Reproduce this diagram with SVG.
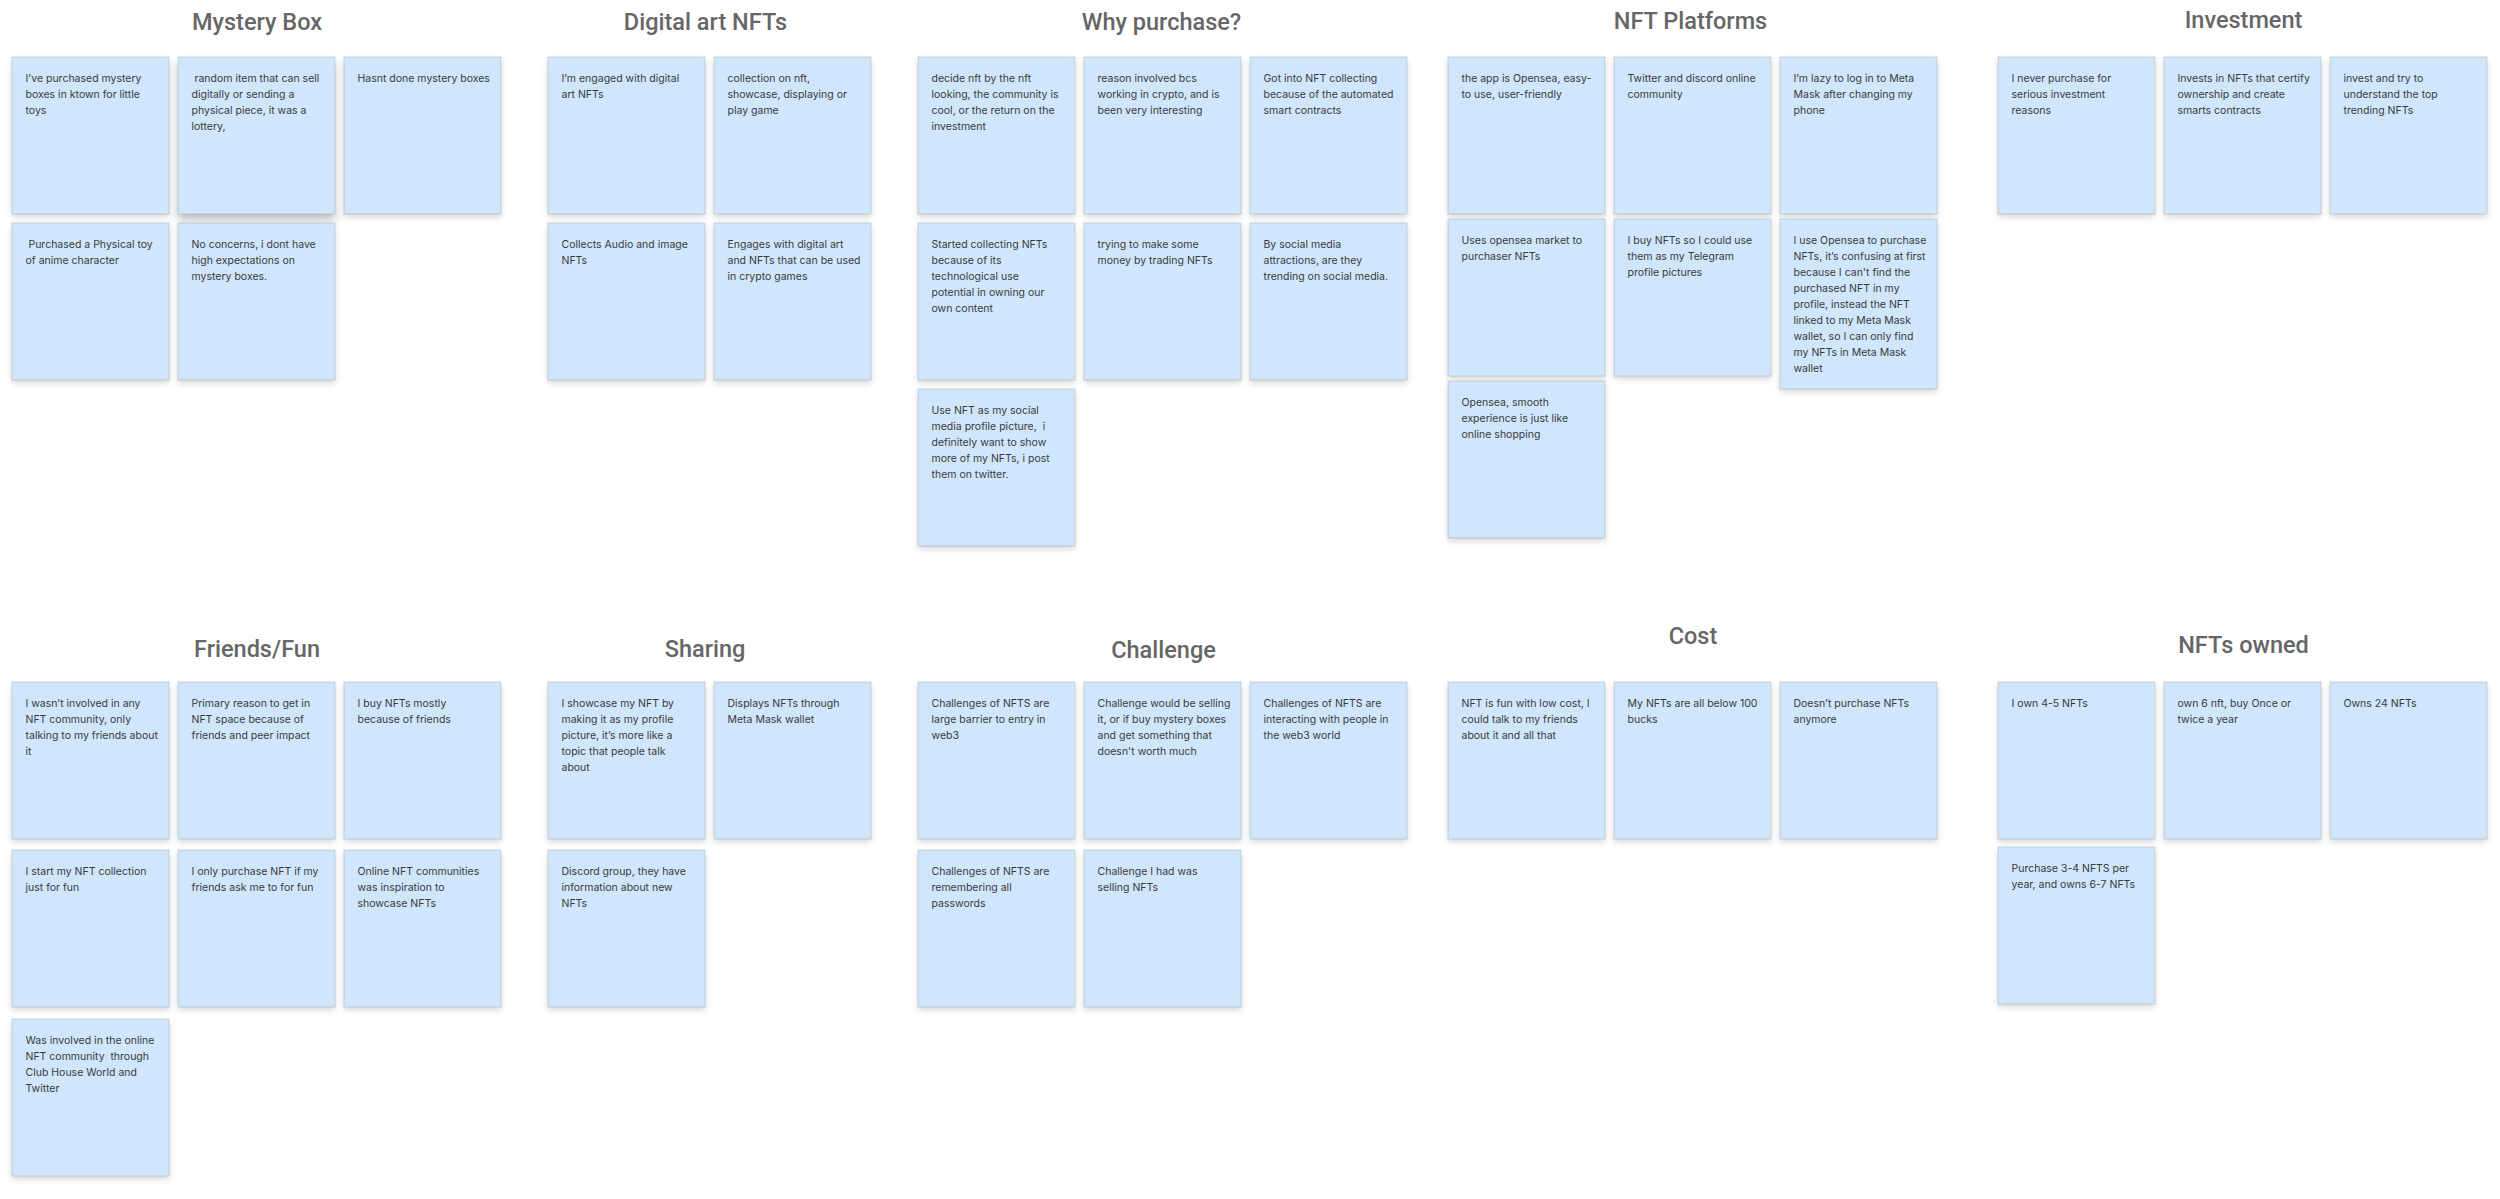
<svg xmlns="http://www.w3.org/2000/svg" width="2500" height="1199" viewBox="0 0 2500 1199">
<defs>
<filter id="sh" x="-20%" y="-20%" width="140%" height="150%">
<feDropShadow dx="0" dy="3" stdDeviation="3" flood-color="#000" flood-opacity="0.16"/>
</filter>
<filter id="sh2" x="-20%" y="-20%" width="140%" height="160%">
<feDropShadow dx="0" dy="6" stdDeviation="5" flood-color="#000" flood-opacity="0.25"/>
</filter>
<style>
.s{fill:#D0E6FD;stroke:#000;stroke-opacity:0.13;stroke-width:1;filter:url(#sh)}
.t{font-family:Inter,"Liberation Sans",sans-serif;font-size:10.5px;fill:#3a3a3a}
.h{font-family:Roboto,"Liberation Sans",sans-serif;font-size:23.5px;font-weight:500;fill:#666666;text-anchor:middle}
</style>
</defs>
<rect width="2500" height="1199" fill="#ffffff"/>
<g id="connectors"/>

<g id="titles">
<text id="title-mystery" class="h" x="257" y="29.5">Mystery Box</text>
<text id="title-digital" class="h" x="705.5" y="29.5">Digital art NFTs</text>
<text id="title-why" class="h" x="1161.5" y="29.5">Why purchase?</text>
<text id="title-platforms" class="h" x="1690.5" y="29">NFT Platforms</text>
<text id="title-investment" class="h" x="2243.5" y="27.5">Investment</text>
<text id="title-friends" class="h" x="257" y="657">Friends/Fun</text>
<text id="title-sharing" class="h" x="705" y="657">Sharing</text>
<text id="title-challenge" class="h" x="1163.5" y="657.5">Challenge</text>
<text id="title-cost" class="h" x="1693" y="643.5">Cost</text>
<text id="title-owned" class="h" x="2243.5" y="652.5">NFTs owned</text>
</g>

<!-- Mystery Box -->
<g id="m1"><rect class="s" x="12" y="57" width="157" height="157"/><text class="t"><tspan x="25.5" y="82">I’ve purchased mystery</tspan><tspan x="25.5" y="98">boxes in ktown for little</tspan><tspan x="25.5" y="114">toys</tspan></text></g>
<g id="m2"><rect class="s" x="178" y="57" width="157" height="157" style="filter:url(#sh2)"/><text class="t" xml:space="preserve"><tspan x="191.5" y="82"> random item that can sell</tspan><tspan x="191.5" y="98">digitally or sending a</tspan><tspan x="191.5" y="114">physical piece, it was a</tspan><tspan x="191.5" y="130">lottery,</tspan></text></g>
<g id="m3"><rect class="s" x="344" y="57" width="157" height="157"/><text class="t"><tspan x="357.5" y="82">Hasnt done mystery boxes</tspan></text></g>
<g id="m4"><rect class="s" x="12" y="223" width="157" height="157"/><text class="t" xml:space="preserve"><tspan x="25.5" y="248"> Purchased a Physical toy</tspan><tspan x="25.5" y="264">of anime character</tspan></text></g>
<g id="m5"><rect class="s" x="178" y="223" width="157" height="157"/><text class="t"><tspan x="191.5" y="248">No concerns, i dont have</tspan><tspan x="191.5" y="264">high expectations on</tspan><tspan x="191.5" y="280">mystery boxes.</tspan></text></g>

<!-- Digital art NFTs -->
<g id="d1"><rect class="s" x="548" y="57" width="157" height="157"/><text class="t"><tspan x="561.5" y="82">I’m engaged with digital</tspan><tspan x="561.5" y="98">art NFTs</tspan></text></g>
<g id="d2"><rect class="s" x="714" y="57" width="157" height="157"/><text class="t"><tspan x="727.5" y="82">collection on nft,</tspan><tspan x="727.5" y="98">showcase, displaying or</tspan><tspan x="727.5" y="114">play game</tspan></text></g>
<g id="d3"><rect class="s" x="548" y="223" width="157" height="157"/><text class="t"><tspan x="561.5" y="248">Collects Audio and image</tspan><tspan x="561.5" y="264">NFTs</tspan></text></g>
<g id="d4"><rect class="s" x="714" y="223" width="157" height="157"/><text class="t"><tspan x="727.5" y="248">Engages with digital art</tspan><tspan x="727.5" y="264">and NFTs that can be used</tspan><tspan x="727.5" y="280">in crypto games</tspan></text></g>

<!-- Why purchase? -->
<g id="w1"><rect class="s" x="918" y="57" width="157" height="157"/><text class="t"><tspan x="931.5" y="82">decide nft by the nft</tspan><tspan x="931.5" y="98">looking, the community is</tspan><tspan x="931.5" y="114">cool, or the return on the</tspan><tspan x="931.5" y="130">investment</tspan></text></g>
<g id="w2"><rect class="s" x="1084" y="57" width="157" height="157"/><text class="t"><tspan x="1097.5" y="82">reason involved bcs</tspan><tspan x="1097.5" y="98">working in crypto, and is</tspan><tspan x="1097.5" y="114">been very interesting</tspan></text></g>
<g id="w3"><rect class="s" x="1250" y="57" width="157" height="157"/><text class="t"><tspan x="1263.5" y="82">Got into NFT collecting</tspan><tspan x="1263.5" y="98">because of the automated</tspan><tspan x="1263.5" y="114">smart contracts</tspan></text></g>
<g id="w4"><rect class="s" x="918" y="223" width="157" height="157"/><text class="t"><tspan x="931.5" y="248">Started collecting NFTs</tspan><tspan x="931.5" y="264">because of its</tspan><tspan x="931.5" y="280">technological use</tspan><tspan x="931.5" y="296">potential in owning our</tspan><tspan x="931.5" y="312">own content</tspan></text></g>
<g id="w5"><rect class="s" x="1084" y="223" width="157" height="157"/><text class="t"><tspan x="1097.5" y="248">trying to make some</tspan><tspan x="1097.5" y="264">money by trading NFTs</tspan></text></g>
<g id="w6"><rect class="s" x="1250" y="223" width="157" height="157"/><text class="t"><tspan x="1263.5" y="248">By social media</tspan><tspan x="1263.5" y="264">attractions, are they</tspan><tspan x="1263.5" y="280">trending on social media.</tspan></text></g>
<g id="w7"><rect class="s" x="918" y="389" width="157" height="157"/><text class="t" xml:space="preserve"><tspan x="931.5" y="414">Use NFT as my social</tspan><tspan x="931.5" y="430">media profile picture,  i</tspan><tspan x="931.5" y="446">definitely want to show</tspan><tspan x="931.5" y="462">more of my NFTs, i post</tspan><tspan x="931.5" y="478">them on twitter.</tspan></text></g>

<!-- NFT Platforms -->
<g id="p1"><rect class="s" x="1448" y="57" width="157" height="157"/><text class="t"><tspan x="1461.5" y="82">the app is Opensea, easy-</tspan><tspan x="1461.5" y="98">to use, user-friendly</tspan></text></g>
<g id="p2"><rect class="s" x="1614" y="57" width="157" height="157"/><text class="t"><tspan x="1627.5" y="82">Twitter and discord online</tspan><tspan x="1627.5" y="98">community</tspan></text></g>
<g id="p3"><rect class="s" x="1780" y="57" width="157" height="157"/><text class="t"><tspan x="1793.5" y="82">I’m lazy to log in to Meta</tspan><tspan x="1793.5" y="98">Mask after changing my</tspan><tspan x="1793.5" y="114">phone</tspan></text></g>
<g id="p4"><rect class="s" x="1448" y="219" width="157" height="157"/><text class="t"><tspan x="1461.5" y="244">Uses opensea market to</tspan><tspan x="1461.5" y="260">purchaser NFTs</tspan></text></g>
<g id="p5"><rect class="s" x="1614" y="219" width="157" height="157"/><text class="t"><tspan x="1627.5" y="244">I buy NFTs so I could use</tspan><tspan x="1627.5" y="260">them as my Telegram</tspan><tspan x="1627.5" y="276">profile pictures</tspan></text></g>
<g id="p6"><rect class="s" x="1780" y="219" width="157" height="170"/><text class="t"><tspan x="1793.5" y="244">I use Opensea to purchase</tspan><tspan x="1793.5" y="260">NFTs, it’s confusing at first</tspan><tspan x="1793.5" y="276">because I can't find the</tspan><tspan x="1793.5" y="292">purchased NFT in my</tspan><tspan x="1793.5" y="308">profile, instead the NFT</tspan><tspan x="1793.5" y="324">linked to my Meta Mask</tspan><tspan x="1793.5" y="340">wallet, so I can only find</tspan><tspan x="1793.5" y="356">my NFTs in Meta Mask</tspan><tspan x="1793.5" y="372">wallet</tspan></text></g>
<g id="p7"><rect class="s" x="1448" y="381" width="157" height="157"/><text class="t"><tspan x="1461.5" y="406">Opensea, smooth</tspan><tspan x="1461.5" y="422">experience is just like</tspan><tspan x="1461.5" y="438">online shopping</tspan></text></g>

<!-- Investment -->
<g id="i1"><rect class="s" x="1998" y="57" width="157" height="157"/><text class="t"><tspan x="2011.5" y="82">I never purchase for</tspan><tspan x="2011.5" y="98">serious investment</tspan><tspan x="2011.5" y="114">reasons</tspan></text></g>
<g id="i2"><rect class="s" x="2164" y="57" width="157" height="157"/><text class="t"><tspan x="2177.5" y="82">Invests in NFTs that certify</tspan><tspan x="2177.5" y="98">ownership and create</tspan><tspan x="2177.5" y="114">smarts contracts</tspan></text></g>
<g id="i3"><rect class="s" x="2330" y="57" width="157" height="157"/><text class="t"><tspan x="2343.5" y="82">invest and try to</tspan><tspan x="2343.5" y="98">understand the top</tspan><tspan x="2343.5" y="114">trending NFTs</tspan></text></g>

<!-- Friends/Fun -->
<g id="f1"><rect class="s" x="12" y="682" width="157" height="157"/><text class="t"><tspan x="25.5" y="707">I wasn’t involved in any</tspan><tspan x="25.5" y="723">NFT community, only</tspan><tspan x="25.5" y="739">talking to my friends about</tspan><tspan x="25.5" y="755">it</tspan></text></g>
<g id="f2"><rect class="s" x="178" y="682" width="157" height="157"/><text class="t"><tspan x="191.5" y="707">Primary reason to get in</tspan><tspan x="191.5" y="723">NFT space because of</tspan><tspan x="191.5" y="739">friends and peer impact</tspan></text></g>
<g id="f3"><rect class="s" x="344" y="682" width="157" height="157"/><text class="t"><tspan x="357.5" y="707">I buy NFTs mostly</tspan><tspan x="357.5" y="723">because of friends</tspan></text></g>
<g id="f4"><rect class="s" x="12" y="850" width="157" height="157"/><text class="t"><tspan x="25.5" y="875">I start my NFT collection</tspan><tspan x="25.5" y="891">just for fun</tspan></text></g>
<g id="f5"><rect class="s" x="178" y="850" width="157" height="157"/><text class="t"><tspan x="191.5" y="875">I only purchase NFT if my</tspan><tspan x="191.5" y="891">friends ask me to for fun</tspan></text></g>
<g id="f6"><rect class="s" x="344" y="850" width="157" height="157"/><text class="t"><tspan x="357.5" y="875">Online NFT communities</tspan><tspan x="357.5" y="891">was inspiration to</tspan><tspan x="357.5" y="907">showcase NFTs</tspan></text></g>
<g id="f7"><rect class="s" x="12" y="1019" width="157" height="157"/><text class="t" xml:space="preserve"><tspan x="25.5" y="1044">Was involved in the online</tspan><tspan x="25.5" y="1060">NFT community  through</tspan><tspan x="25.5" y="1076">Club House World and</tspan><tspan x="25.5" y="1092">Twitter</tspan></text></g>

<!-- Sharing -->
<g id="s1"><rect class="s" x="548" y="682" width="157" height="157"/><text class="t"><tspan x="561.5" y="707">I showcase my NFT by</tspan><tspan x="561.5" y="723">making it as my profile</tspan><tspan x="561.5" y="739">picture, it’s more like a</tspan><tspan x="561.5" y="755">topic that people talk</tspan><tspan x="561.5" y="771">about</tspan></text></g>
<g id="s2"><rect class="s" x="714" y="682" width="157" height="157"/><text class="t"><tspan x="727.5" y="707">Displays NFTs through</tspan><tspan x="727.5" y="723">Meta Mask wallet</tspan></text></g>
<g id="s3"><rect class="s" x="548" y="850" width="157" height="157"/><text class="t"><tspan x="561.5" y="875">Discord group, they have</tspan><tspan x="561.5" y="891">information about new</tspan><tspan x="561.5" y="907">NFTs</tspan></text></g>

<!-- Challenge -->
<g id="c1"><rect class="s" x="918" y="682" width="157" height="157"/><text class="t"><tspan x="931.5" y="707">Challenges of NFTS are</tspan><tspan x="931.5" y="723">large barrier to entry in</tspan><tspan x="931.5" y="739">web3</tspan></text></g>
<g id="c2"><rect class="s" x="1084" y="682" width="157" height="157"/><text class="t"><tspan x="1097.5" y="707">Challenge would be selling</tspan><tspan x="1097.5" y="723">it, or if buy mystery boxes</tspan><tspan x="1097.5" y="739">and get something that</tspan><tspan x="1097.5" y="755">doesn't worth much</tspan></text></g>
<g id="c3"><rect class="s" x="1250" y="682" width="157" height="157"/><text class="t"><tspan x="1263.5" y="707">Challenges of NFTS are</tspan><tspan x="1263.5" y="723">interacting with people in</tspan><tspan x="1263.5" y="739">the web3 world</tspan></text></g>
<g id="c4"><rect class="s" x="918" y="850" width="157" height="157"/><text class="t"><tspan x="931.5" y="875">Challenges of NFTS are</tspan><tspan x="931.5" y="891">remembering all</tspan><tspan x="931.5" y="907">passwords</tspan></text></g>
<g id="c5"><rect class="s" x="1084" y="850" width="157" height="157"/><text class="t"><tspan x="1097.5" y="875">Challenge I had was</tspan><tspan x="1097.5" y="891">selling NFTs</tspan></text></g>

<!-- Cost -->
<g id="k1"><rect class="s" x="1448" y="682" width="157" height="157"/><text class="t"><tspan x="1461.5" y="707">NFT is fun with low cost, I</tspan><tspan x="1461.5" y="723">could talk to my friends</tspan><tspan x="1461.5" y="739">about it and all that</tspan></text></g>
<g id="k2"><rect class="s" x="1614" y="682" width="157" height="157"/><text class="t"><tspan x="1627.5" y="707">My NFTs are all below 100</tspan><tspan x="1627.5" y="723">bucks</tspan></text></g>
<g id="k3"><rect class="s" x="1780" y="682" width="157" height="157"/><text class="t"><tspan x="1793.5" y="707">Doesn’t purchase NFTs</tspan><tspan x="1793.5" y="723">anymore</tspan></text></g>

<!-- NFTs owned -->
<g id="o1"><rect class="s" x="1998" y="682" width="157" height="157"/><text class="t"><tspan x="2011.5" y="707">I own 4-5 NFTs</tspan></text></g>
<g id="o2"><rect class="s" x="2164" y="682" width="157" height="157"/><text class="t"><tspan x="2177.5" y="707">own 6 nft, buy Once or</tspan><tspan x="2177.5" y="723">twice a year</tspan></text></g>
<g id="o3"><rect class="s" x="2330" y="682" width="157" height="157"/><text class="t"><tspan x="2343.5" y="707">Owns 24 NFTs</tspan></text></g>
<g id="o4"><rect class="s" x="1998" y="847" width="157" height="157"/><text class="t"><tspan x="2011.5" y="872">Purchase 3-4 NFTS per</tspan><tspan x="2011.5" y="888">year, and owns 6-7 NFTs</tspan></text></g>
</svg>
